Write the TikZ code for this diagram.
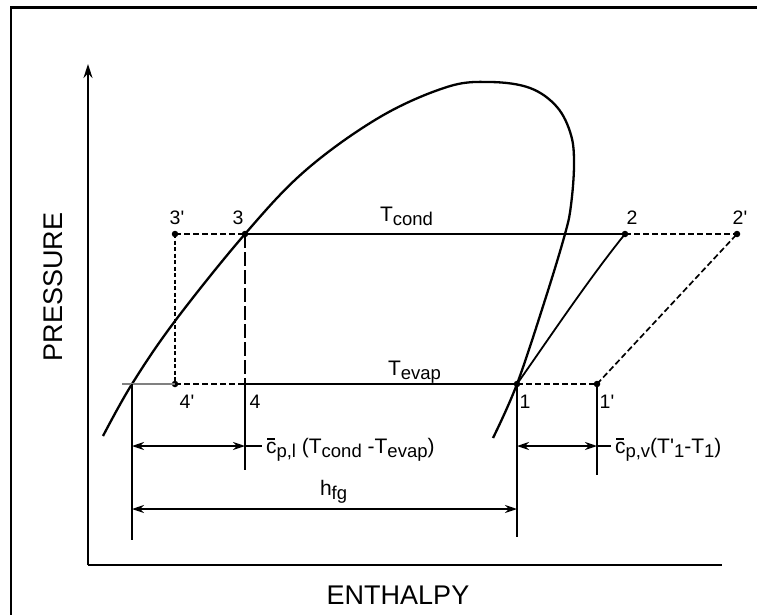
\documentclass[tikz,border=0pt]{standalone}
\usepackage{fontspec}
\setmainfont{Liberation Sans}
\usetikzlibrary{arrows.meta}
\newcommand\sbs[1]{\raisebox{-4.5pt}{\fontsize{18.5}{18.5}\selectfont #1}}
\newcommand\cbar{\makebox[0pt][l]{\kern0.07em\raisebox{0.63em}{\rule{0.36em}{0.07em}}}c}
\newcommand\prm{\textquotesingle}
\begin{document}
\begin{tikzpicture}[x=1pt,y=-1pt,
  every node/.style={inner sep=0pt, outer sep=0pt},
  frameln/.style={line width=2.2pt},
  axisln/.style={line width=1.6pt},
  curve/.style={line width=2.3pt, line join=round},
  solidln/.style={line width=1.8pt},
  dashln/.style={line width=1.7pt, dash pattern=on 6pt off 3pt},
  vdotln/.style={line width=2pt, dash pattern=on 4pt off 2.5pt},
  longdash/.style={line width=1.5pt, dash pattern=on 14pt off 4pt},
  thinln/.style={line width=1.1pt, gray},
  extln/.style={line width=1.5pt},
  dim/.style={line width=1.5pt, {Stealth[length=12pt,width=8pt]}-{Stealth[length=12pt,width=8pt]}},
  dot/.style={circle, fill, inner sep=0pt, minimum size=6.5pt},
  ptlab/.style={font=\fontsize{19.5}{19.5}\selectfont},
  txt/.style={font=\fontsize{21}{21}\selectfont, anchor=base west},
  axlab/.style={font=\fontsize{27}{27}\selectfont},
]
\useasboundingbox (0,0) rectangle (757,615);
% frame
\coordinate (fbl) at (11,615);
\coordinate (ftl) at (11,7.5);
\coordinate (ftr) at (757,7.5);
\draw[frameln] (fbl) -- (ftl) -- (ftr);
% axes
\coordinate (O) at (88,565);
\coordinate (Ytop) at (88,64);
\coordinate (Xend) at (722,565);
\draw[axisln, -{Stealth[length=14pt,width=9pt]}] (O) -- (Ytop);
\draw[axisln] (O) -- (Xend);
\node[axlab, rotate=90] (ylab) at (53,287) {PRESSURE};
\node[axlab] (xlab) at (398,595) {ENTHALPY};
% state points
\node[dot] (p3p) at (175,234) {};
\node[dot] (p3)  at (245,234) {};
\node[dot] (p4p) at (175,384) {};
\coordinate (p4) at (245,384);
\node[dot] (p2)  at (625,234) {};
\node[dot] (p2p) at (737,234) {};
\node[dot] (p1)  at (517,384) {};
\node[dot] (p1p) at (597,384) {};
% saturation dome
\draw[curve] plot[smooth, tension=0.6] coordinates {
  (103,436) (132,384) (175,321) (245,234) (306,170) (380,117) (447,87)
  (490,82) (530,88) (557,107) (571,135) (574,165) (571,205) (565,234)
  (545,300) (517,384) (493,438)};
% cycle lines
\draw[solidln] (p3.center) -- (p2.center);
\draw[solidln] (p4) -- (p1.center);
\draw[dashln] (p3p.center) -- (p3.center);
\draw[dashln] (p2.center) -- (p2p.center);
\draw[dashln] (p4p.center) -- (p4);
\draw[dashln] (p1.center) -- (p1p.center);
\draw[dashln] (p1p.center) -- (p2p.center);
\draw[vdotln] (p3p.center) -- (p4p.center);
\draw[longdash] (p3.center) -- (p4);
\draw[solidln] (p1.center) .. controls (550,337) and (588,280) .. (p2.center);
\coordinate (lstub) at (122,384);
\draw[thinln] (lstub) -- (p4p.center);
% extension lines
\coordinate (eA) at (132,384); \coordinate (eAb) at (132,540);
\coordinate (eBb) at (245,470);
\coordinate (eCb) at (517,537);
\coordinate (eDb) at (597,475);
\draw[extln] (eA) -- (eAb);
\draw[extln] (p4) -- (eBb);
\draw[extln] (p1.center) -- (eCb);
\draw[extln] (p1p.center) -- (eDb);
% dimension arrows
\coordinate (d1a) at (132,446); \coordinate (d1b) at (245,446); \coordinate (d1s) at (262,446);
\coordinate (d2a) at (517,446); \coordinate (d2b) at (597,446); \coordinate (d2s) at (611,446);
\coordinate (d3a) at (132,509); \coordinate (d3b) at (517,509);
\draw[dim] (d1a) -- (d1b);
\draw[extln] (d1b) -- (d1s);
\draw[dim] (d2a) -- (d2b);
\draw[extln] (d2b) -- (d2s);
\draw[dim] (d3a) -- (d3b);
% point labels
\node[ptlab] (l3p) at (177,218) {3\prm};
\node[ptlab] (l3)  at (238,218) {3};
\node[ptlab] (l4p) at (187,402) {4\prm};
\node[ptlab] (l4)  at (255,402) {4};
\node[ptlab] (l2)  at (632,218) {2};
\node[ptlab] (l2p) at (740,218) {2\prm};
\node[ptlab] (l1)  at (525,402) {1};
\node[ptlab] (l1p) at (607,402) {1\prm};
% text labels
\node[txt] (tcond) at (380,221) {T\sbs{cond}};
\node[txt] (tevap) at (388,375) {T\sbs{evap}};
\node[txt] (cpl) at (266,453) {\cbar\sbs{p,l} (T\sbs{cond} -T\sbs{evap})};
\node[txt] (hfg) at (320,495) {h\sbs{fg}};
\node[txt] (cpv) at (615,453) {\cbar\sbs{p,v}(T\prm\sbs{1}-T\sbs{1})};
\end{tikzpicture}
\end{document}
